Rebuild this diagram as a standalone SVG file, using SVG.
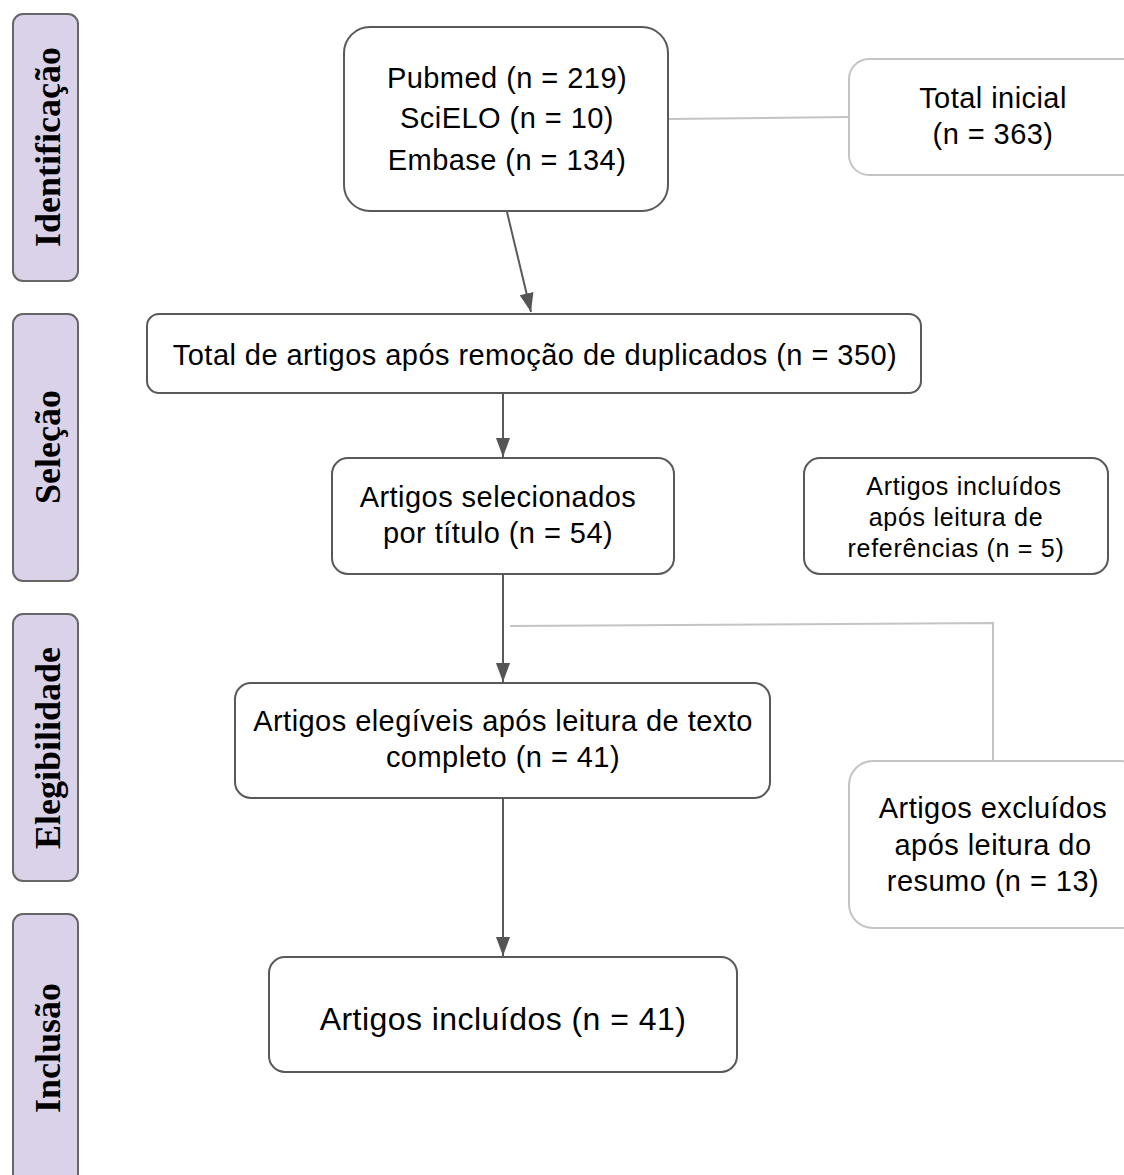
<svg xmlns="http://www.w3.org/2000/svg" width="1124" height="1175" viewBox="0 0 1124 1175">
<defs>
<marker id="ah2" viewBox="0 0 10 10" refX="10" refY="5" markerWidth="19" markerHeight="19" markerUnits="userSpaceOnUse" orient="auto">
<path d="M0,1.3 L10,5 L0,8.7 z" fill="#555"/>
</marker>
<style>
.side{fill:#d9d2e9;stroke:#666;stroke-width:2}
.sidet{font-family:"Liberation Serif","Times New Roman",serif;font-weight:bold;font-size:36px;fill:#000;text-anchor:middle}
.box{fill:#fff;stroke:#595959;stroke-width:2}
.boxl{fill:#fff;stroke:#c4c4c4;stroke-width:2}
.t{font-family:"Liberation Sans",Arial,sans-serif;font-size:29px;letter-spacing:0.45px;fill:#000;text-anchor:middle}
.ts{font-family:"Liberation Sans",Arial,sans-serif;font-size:25px;letter-spacing:0.7px;fill:#000;text-anchor:middle}
.c{stroke:#595959;stroke-width:2;fill:none}
.cl{stroke:#c4c4c4;stroke-width:2;fill:none}
</style>
</defs>
<rect width="1124" height="1175" fill="#fff"/>
<g id="stage-identificacao">
<rect class="side" x="13" y="14" width="65" height="267" rx="10"/>
<text class="sidet" transform="translate(60,147) rotate(-90)">Identificação</text>
</g>
<g id="stage-selecao">
<rect class="side" x="13" y="314" width="65" height="267" rx="10"/>
<text class="sidet" transform="translate(60,447) rotate(-90)">Seleção</text>
</g>
<g id="stage-elegibilidade">
<rect class="side" x="13" y="614" width="65" height="267" rx="10"/>
<text class="sidet" transform="translate(60,748) rotate(-90)">Elegibilidade</text>
</g>
<g id="stage-inclusao">
<rect class="side" x="13" y="914" width="65" height="280" rx="10"/>
<text class="sidet" transform="translate(60,1048) rotate(-90)">Inclusão</text>
</g>
<g id="connectors">
<line class="c" x1="507" y1="212" x2="531" y2="312" marker-end="url(#ah2)"/>
<line class="c" x1="503" y1="394" x2="503" y2="457" marker-end="url(#ah2)"/>
<line class="c" x1="503" y1="575" x2="503" y2="682" marker-end="url(#ah2)"/>
<line class="c" x1="503" y1="799" x2="503" y2="956" marker-end="url(#ah2)"/>
<line class="cl" x1="669" y1="119" x2="849" y2="117"/>
<polyline class="cl" points="510,626 993,623 993,761"/>
</g>
<g id="n-databases">
<rect class="box" x="344" y="27" width="324" height="184" rx="26"/>
<text class="t" x="507" y="88">Pubmed (n = 219)</text>
<text class="t" x="507" y="128">SciELO (n = 10)</text>
<text class="t" x="507" y="170">Embase (n = 134)</text>
</g>
<g id="n-total-inicial">
<rect class="boxl" x="849" y="59" width="295" height="116" rx="20"/>
<text class="t" x="993" y="108">Total inicial</text>
<text class="t" x="993" y="144">(n = 363)</text>
</g>
<g id="n-sem-duplicados">
<rect class="box" x="147" y="314" width="774" height="79" rx="12"/>
<text class="t" x="535" y="365">Total de artigos após remoção de duplicados (n = 350)</text>
</g>
<g id="n-titulo">
<rect class="box" x="332" y="458" width="342" height="116" rx="16"/>
<text class="t" x="498" y="507">Artigos selecionados</text>
<text class="t" x="498" y="543">por título (n = 54)</text>
</g>
<g id="n-referencias">
<rect class="box" x="804" y="458" width="304" height="116" rx="16"/>
<text class="ts" x="964" y="495">Artigos incluídos</text>
<text class="ts" x="956" y="526">após leitura de</text>
<text class="ts" x="956" y="557">referências (n = 5)</text>
</g>
<g id="n-elegiveis">
<rect class="box" x="235" y="683" width="535" height="115" rx="16"/>
<text class="t" x="503" y="731">Artigos elegíveis após leitura de texto</text>
<text class="t" x="503" y="767">completo (n = 41)</text>
</g>
<g id="n-excluidos">
<rect class="boxl" x="849" y="761" width="295" height="167" rx="24"/>
<text class="t" x="993" y="818">Artigos excluídos</text>
<text class="t" x="993" y="855">após leitura do</text>
<text class="t" x="993" y="891">resumo (n = 13)</text>
</g>
<g id="n-incluidos">
<rect class="box" x="269" y="957" width="468" height="115" rx="16"/>
<text class="t" x="503" y="1030" style="font-size:32px">Artigos incluídos (n = 41)</text>
</g>
</svg>
